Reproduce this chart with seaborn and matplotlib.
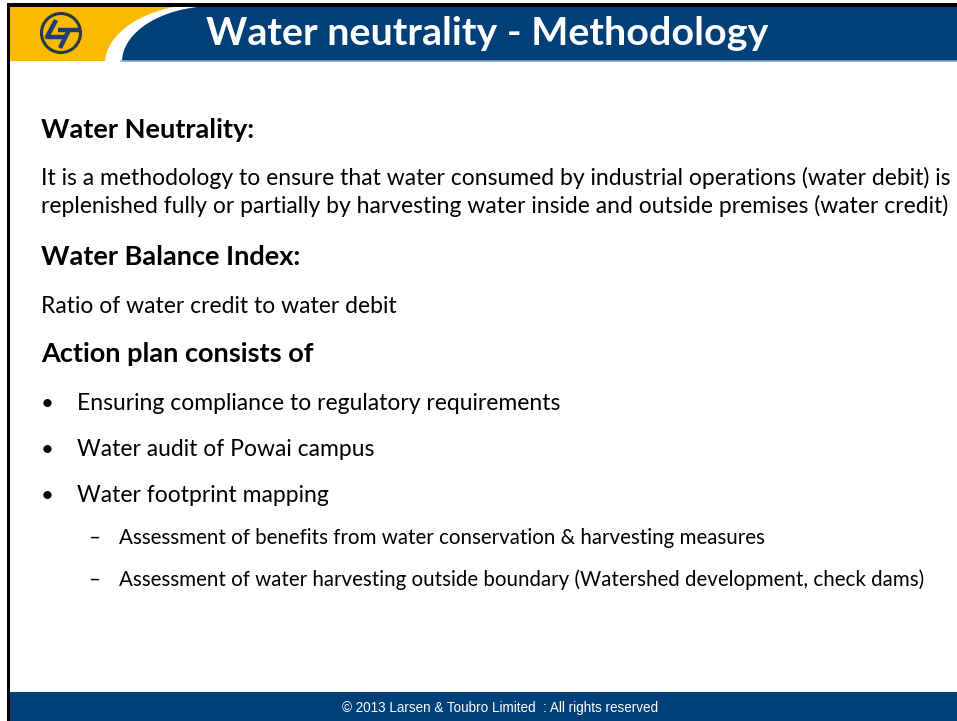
import numpy as np
import matplotlib
matplotlib.use("Agg")
import matplotlib.pyplot as plt
import seaborn as sns
from matplotlib.patches import Rectangle, Polygon, Circle

# slide content
title = "Water neutrality - Methodology"
headings = ["Water Neutrality:", "Water Balance Index:", "Action plan consists of"]
heading_y = [137, 264, 361]
body_lines = [
    "It is a methodology to ensure that water consumed by industrial operations (water debit) is",
    "replenished fully or partially by harvesting water inside and outside premises (water credit)",
    "Ratio of water credit to water debit",
]
body_y = [184, 212, 312]
bullets = ["Ensuring compliance to regulatory requirements",
           "Water audit of Powai campus",
           "Water footprint mapping"]
bullet_y = [409, 455, 501]
sub_bullets = ["Assessment of benefits from water conservation & harvesting measures",
               "Assessment of water harvesting outside boundary (Watershed development, check dams)"]
sub_y = [543, 585]
footer = "\u00a9 2013 Larsen & Toubro Limited  : All rights reserved"

YELLOW = "#fbb900"
BLUE = "#003f78"
FONT = "Lato"

sns.set_theme(style="white")
plt.rcParams["font.family"] = [FONT, "DejaVu Sans"]

fig = plt.figure(figsize=(9.57, 7.21), dpi=100)
ax = fig.add_axes([0, 0, 1, 1])
ax.set_xlim(0, 957)
ax.set_ylim(721, 0)
ax.axis("off")

# header bar
ax.add_patch(Rectangle((9, 7), 948, 54, color=YELLOW, lw=0))

def swoosh(cx, cy, a, b, top=7):
    t = np.linspace(0, np.pi / 2, 80)
    x = cx - a * np.cos(t)
    y = cy - b * np.sin(t)
    keep = y >= top
    pts = list(zip(x[keep], y[keep]))
    pts += [(pts[-1][0], top), (957, top), (957, 61), (pts[0][0], 61)]
    return pts

ax.add_patch(Polygon(swoosh(205, 64, 100, 60), closed=True, color="white", lw=0))
ax.add_patch(Polygon(swoosh(215, 62, 93, 56), closed=True, color=BLUE, lw=0))
ax.plot([121, 957], [61, 61], color="#7fa7d6", lw=1.2)

# logo
ax.add_patch(Circle((61, 33), 19.5, fill=False, ec="#27384a", lw=2.2))
ax.plot([56, 47, 66], [20, 37, 37], color="#1c3f78", lw=3.2, solid_capstyle="butt")
ax.plot([58, 79], [30, 30], color="#1c3f78", lw=3.2, solid_capstyle="butt")
ax.plot([69, 60], [30, 48], color="#1c3f78", lw=3.2, solid_capstyle="butt")

ax.text(487, 45, title, color="white", fontsize=28.4, fontweight="bold",
        ha="center", va="baseline")

# borders
ax.add_patch(Rectangle((7, 3), 950, 4, color="black", lw=0))
ax.add_patch(Rectangle((7, 3), 3, 718, color="black", lw=0))

# body text
for s, y in zip(headings, heading_y):
    ax.text(41, y + 1, s, fontsize=19.5, fontweight="bold", color="black", va="baseline")
for s, y in zip(body_lines, body_y):
    ax.text(41, y + 1, s, fontsize=16.5, color="black", va="baseline")
for s, y in zip(bullets, bullet_y):
    ax.text(41, y + 1, "\u2022", fontsize=16, color="black", va="baseline")
    ax.text(77, y + 1, s, fontsize=16.5, color="black", va="baseline")
for s, y in zip(sub_bullets, sub_y):
    ax.text(88, y + 1, "\u2013", fontsize=14.8, color="black", va="baseline")
    ax.text(119, y + 1, s, fontsize=14.8, color="black", va="baseline")

# footer
ax.add_patch(Rectangle((10, 692), 947, 29, color=BLUE, lw=0))
ax.text(500, 712, footer, color="white", fontsize=9.75, family="Liberation Sans",
        ha="center", va="baseline")

fig.savefig("out.png", dpi=100)
